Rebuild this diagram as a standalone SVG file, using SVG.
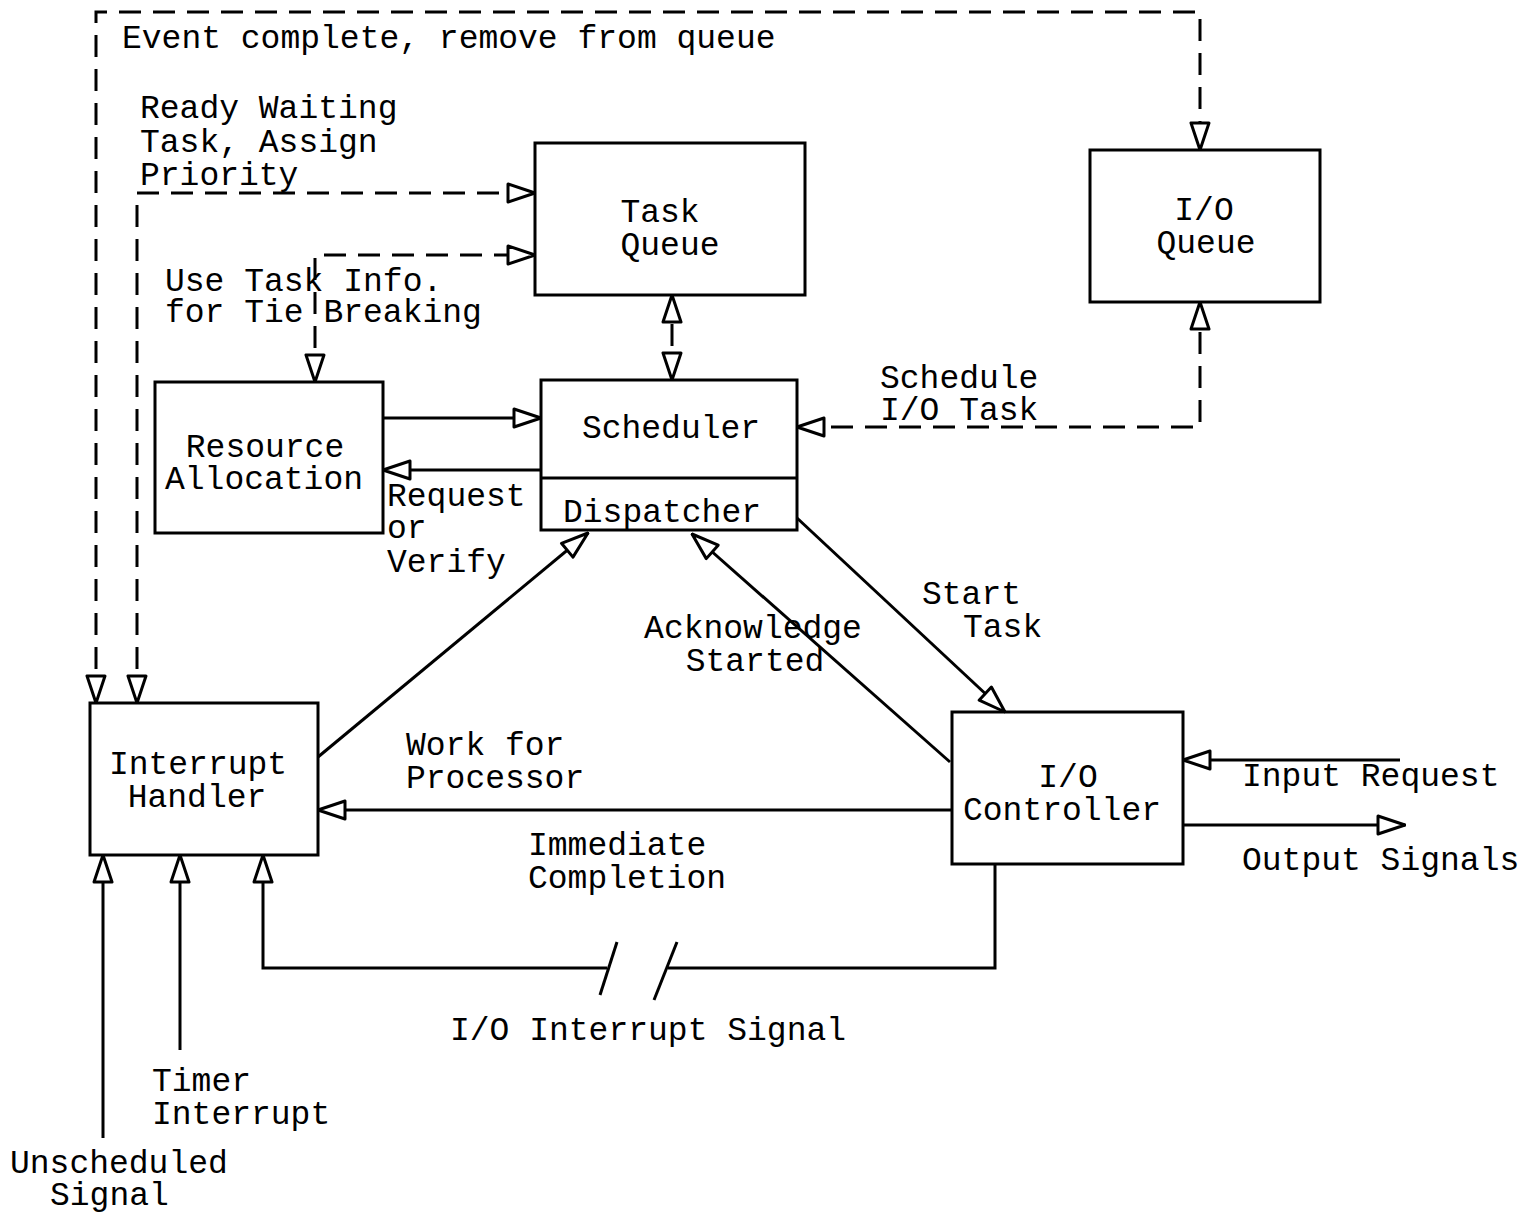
<svg xmlns="http://www.w3.org/2000/svg" width="1524" height="1212" viewBox="0 0 1524 1212">
<style>
.box{fill:none;stroke:#000;stroke-width:3}
.ln{fill:none;stroke:#000;stroke-width:3}
.dash{fill:none;stroke:#000;stroke-width:3;stroke-dasharray:22 12}
.t{font-family:"Liberation Mono","Courier New",monospace;font-size:33px;fill:#000}
.m{text-anchor:middle}
</style>
<defs>
<marker id="ah" markerUnits="userSpaceOnUse" viewBox="0 0 30 22" refX="29" refY="11" markerWidth="30" markerHeight="22" orient="auto-start-reverse">
<path d="M2,2 L29,11 L2,20 Z" fill="#fff" stroke="#000" stroke-width="3" stroke-linejoin="round" stroke-dasharray="none"/>
</marker>
</defs>
<rect width="1524" height="1212" fill="#fff"/>

<g id="connectors">
<path class="dash" d="M96,703 V12 H1200 V150" marker-start="url(#ah)" marker-end="url(#ah)"/>
<path class="dash" d="M137,703 V193 H535" marker-start="url(#ah)" marker-end="url(#ah)"/>
<path class="dash" d="M315,382 V255 H535" marker-start="url(#ah)" marker-end="url(#ah)"/>
<path class="dash" d="M672,380 V295" marker-start="url(#ah)" marker-end="url(#ah)"/>
<path class="dash" d="M797,427 H1200 V302" marker-start="url(#ah)" marker-end="url(#ah)"/>
<path class="ln" d="M383,418 H541" marker-end="url(#ah)"/>
<path class="ln" d="M541,470 H383" marker-end="url(#ah)"/>
<path class="ln" d="M318,757 L588,533" marker-end="url(#ah)"/>
<path class="ln" d="M950,762 L692,534" marker-end="url(#ah)"/>
<path class="ln" d="M797,518 L1005,712" marker-end="url(#ah)"/>
<path class="ln" d="M952,810 H318" marker-end="url(#ah)"/>
<path class="ln" d="M607,968 H263 V855" marker-end="url(#ah)"/>
<path class="ln" d="M668,968 H995 V864"/>
<path class="ln" d="M600,995 L617,942"/>
<path class="ln" d="M654,1000 L677,942"/>
<path class="ln" d="M103,1138 V855" marker-end="url(#ah)"/>
<path class="ln" d="M180,1050 V855" marker-end="url(#ah)"/>
<path class="ln" d="M1400,760 H1183" marker-end="url(#ah)"/>
<path class="ln" d="M1183,825 H1405" marker-end="url(#ah)"/>
</g>

<g id="task-queue">
<rect class="box" x="535" y="143" width="270" height="152"/>
<text class="t m"><tspan x="660" y="222">Task</tspan><tspan x="670" y="255">Queue</tspan></text>
</g>
<g id="io-queue">
<rect class="box" x="1090" y="150" width="230" height="152"/>
<text class="t m"><tspan x="1204" y="220">I/O</tspan><tspan x="1206" y="253">Queue</tspan></text>
</g>
<g id="scheduler">
<rect class="box" x="541" y="380" width="256" height="150"/>
<line class="ln" x1="541" y1="478" x2="797" y2="478"/>
<text class="t m" x="671" y="438">Scheduler</text>
<text class="t m" x="662" y="522">Dispatcher</text>
</g>
<g id="resource-allocation">
<rect class="box" x="155" y="382" width="228" height="151"/>
<text class="t m"><tspan x="265" y="457">Resource</tspan><tspan x="264" y="489">Allocation</tspan></text>
</g>
<g id="interrupt-handler">
<rect class="box" x="90" y="703" width="228" height="152"/>
<text class="t m"><tspan x="198" y="774">Interrupt</tspan><tspan x="197" y="807">Handler</tspan></text>
</g>
<g id="io-controller">
<rect class="box" x="952" y="712" width="231" height="152"/>
<text class="t m"><tspan x="1068" y="787">I/O</tspan><tspan x="1062" y="820">Controller</tspan></text>
</g>

<g id="labels">
<text class="t" x="122" y="48">Event complete, remove from queue</text>
<text class="t"><tspan x="140" y="118">Ready Waiting</tspan><tspan x="140" y="152">Task, Assign</tspan><tspan x="140" y="185">Priority</tspan></text>
<text class="t"><tspan x="165" y="291">Use Task Info.</tspan><tspan x="165" y="322">for Tie Breaking</tspan></text>
<text class="t"><tspan x="880" y="388">Schedule</tspan><tspan x="880" y="420">I/O Task</tspan></text>
<text class="t"><tspan x="387" y="506">Request</tspan><tspan x="387" y="538">or</tspan><tspan x="387" y="572">Verify</tspan></text>
<text class="t"><tspan x="922" y="604">Start</tspan><tspan x="963" y="637">Task</tspan></text>
<text class="t m"><tspan x="753" y="638">Acknowledge</tspan><tspan x="755" y="671">Started</tspan></text>
<text class="t"><tspan x="406" y="755">Work for</tspan><tspan x="406" y="788">Processor</tspan></text>
<text class="t" x="1242" y="786">Input Request</text>
<text class="t"><tspan x="528" y="855">Immediate</tspan><tspan x="528" y="888">Completion</tspan></text>
<text class="t" x="1242" y="870">Output Signals</text>
<text class="t" x="450" y="1040">I/O Interrupt Signal</text>
<text class="t"><tspan x="152" y="1091">Timer</tspan><tspan x="152" y="1124">Interrupt</tspan></text>
<text class="t"><tspan x="10" y="1173">Unscheduled</tspan><tspan x="50" y="1205">Signal</tspan></text>
</g>
</svg>
